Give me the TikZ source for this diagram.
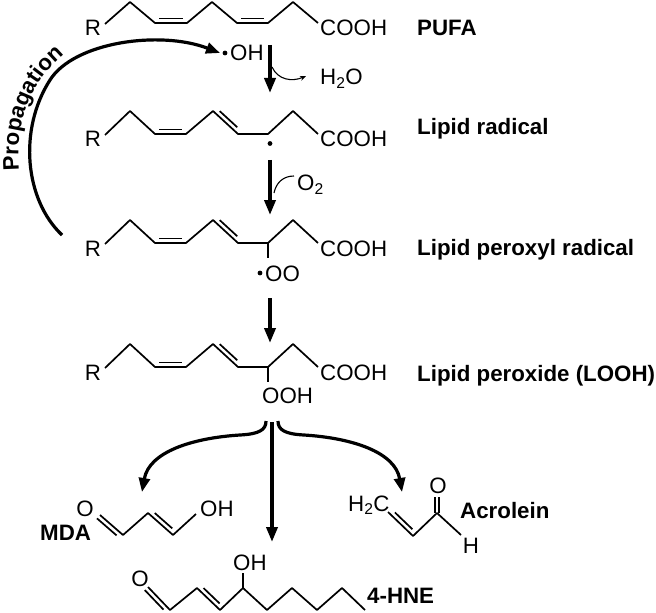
\documentclass[tikz,border=0pt]{standalone}
\usepackage{fontspec}
\setmainfont{Liberation Sans}
\usetikzlibrary{arrows.meta,calc,decorations.text}

\tikzset{
  bond/.style={line width=1.7bp, line join=round},
  reaction/.style={line width=3.6bp, -{Triangle[length=15bp,width=11bp]}},
  bent/.style={line width=3.2bp, -{Triangle[length=14bp,width=11bp]}},
  byarrow/.style={line width=1.1bp, -{Stealth[length=6bp,width=5bp]}},
  atom/.style={anchor=base, inner sep=0pt},
  chemtext/.style={anchor=base west, inner sep=0pt},
  compound/.style={anchor=base west, inner sep=0pt, font=\fontsize{22.3bp}{26bp}\selectfont\bfseries},
}

\begin{document}
\begin{tikzpicture}[x=1bp, y=-1bp, font=\fontsize{22.3bp}{26bp}\selectfont]
    \useasboundingbox (0,0) rectangle (656,613);

        %PUFA
        \foreach \i/\x/\y in {0/105/24, 1/130/2, 2/155/23, 3/187/23, 4/212/2, 5/237/23, 6/268/23, 7/293/2, 8/318/23}
            \coordinate (p\i) at (\x,\y);
        \draw[bond] (p0) -- (p1) -- (p2) -- (p3) -- (p4) -- (p5) -- (p6) -- (p7) -- (p8);
        \draw[bond] ($(p2)+(4,-4.5)$) -- ($(p3)+(-4,-4.5)$);
        \draw[bond] ($(p5)+(4,-4.5)$) -- ($(p6)+(-4,-4.5)$);
        \node[atom] (Rp) at (93,36) {R};
        \node[chemtext] (cp) at (320,36) {COOH};
        \node[compound] (pufa) at (417,36) {PUFA};

        %Lipid radical, peroxyl radical, peroxide
        \foreach \n/\b in {r/134, q/243, l/367} {
            \foreach \i/\x/\d in {0/105/1, 1/130/-23, 2/155/0, 3/186/0, 4/213/-23, 5/238/0, 6/268/0, 7/293/-23, 8/318/0}
                \coordinate (\n\i) at (\x,\b+\d);
            \draw[bond] (\n0) -- (\n1) -- (\n2) -- (\n3) -- (\n4) -- (\n5) -- (\n6) -- (\n7) -- (\n8);
            \draw[bond] ($(\n2)+(4,-4.5)$) -- ($(\n3)+(-4,-4.5)$);
            \draw[bond] ($(\n4)!0.15!(\n5)+(3,-3.3)$) -- ($(\n5)!0.15!(\n4)+(3,-3.3)$);
            \node[atom] (R\n) at (93,\b+13) {R};
            \node[chemtext] (c\n) at (320,\b+13) {COOH};
        }
        \node[compound] (radical) at (417,135) {Lipid radical};
        \node[compound] (peroxyl) at (417,255) {Lipid peroxyl radical};
        \node[compound] (peroxide) at (417,381) {Lipid peroxide (LOOH)};

        %Radical centres
        \fill ($(r6)+(2,9.5)$) circle (2.4bp);
        \draw[bond] (q6) -- ++(0,15);
        \fill (260,273) circle (2.4bp);
        \node[chemtext] (oo) at (265,281) {OO};
        \draw[bond] (l6) -- ++(0,15);
        \node[chemtext] (ooh) at (262,403) {OOH};

        %Steps
        \coordinate (s1) at (270,45);
        \coordinate (t1) at (270,93);
        \draw[reaction] (s1) -- (t1);
        \fill (225,53) circle (2.4bp);
        \node[chemtext] (oh) at (230,61) {OH};
        \node[chemtext] (water) at (320,85) {H\textsubscript{2}O};
        \draw[byarrow] (272,67) .. controls (278,80) and (292,82) .. (306,76);

        \coordinate (s2) at (270,160);
        \coordinate (t2) at (270,215);
        \draw[reaction] (s2) -- (t2);
        \node[chemtext] (oxygen) at (297,191) {O\textsubscript{2}};
        \draw[line width=1.1bp] (294,176) .. controls (283,176) and (276,183) .. (274,193);

        \coordinate (s3) at (270,298);
        \coordinate (t3) at (270,343);
        \draw[reaction] (s3) -- (t3);

        %Propagation
        \draw[bent] (62,235) .. controls (25,200) and (18,130) .. (50,80) .. controls (74,42) and (160,30) .. (220,53);
        \path[decorate, decoration={text along path, text={|\fontsize{22.3bp}{26bp}\selectfont\bfseries|Propagation}}]
            (19,170) .. controls (15,120) and (30,75) .. (82,41);

        %Breakdown of LOOH
        \coordinate (s4) at (272,422);
        \coordinate (t4) at (272,542);
        \draw[reaction] (s4) -- (t4);
        \draw[bent] (266,421) .. controls (266,430) and (259,434) .. (240,435) .. controls (192,438) and (149,452) .. (142,492);
        \draw[bent] (278,421) .. controls (278,430) and (285,434) .. (304,435) .. controls (352,438) and (395,452) .. (402,492);

        %MDA
        \foreach \i/\x/\y in {0/100/515, 1/123/535, 2/148/513, 3/173/535, 4/196/514}
            \coordinate (m\i) at (\x,\y);
        \draw[bond] (m0) -- (m1) -- (m2) -- (m3) -- (m4);
        \draw[bond] ($(m0)+(-3,3.4)$) -- ($(m0)!0.85!(m1)+(-3,3.4)$);
        \draw[bond] ($(m2)!0.15!(m3)+(3,-3.3)$) -- ($(m3)!0.15!(m2)+(3,-3.3)$);
        \node[atom] (mo) at (85,516) {O};
        \node[chemtext] (moh) at (200,516) {OH};
        \node[compound] (mda) at (40,540) {MDA};

        %4-HNE
        \foreach \i/\x/\y in {0/148/587, 1/170/610, 2/197/588, 3/220/610, 4/243/588, 5/267/610, 6/292/588, 7/317/610, 8/342/588, 9/365/610}
            \coordinate (n\i) at (\x,\y);
        \draw[bond] (n0) -- (n1) -- (n2) -- (n3) -- (n4) -- (n5) -- (n6) -- (n7) -- (n8) -- (n9);
        \draw[bond] ($(n0)+(-3.2,3.1)$) -- ($(n0)!0.85!(n1)+(-3.2,3.1)$);
        \draw[bond] ($(n2)!0.15!(n3)+(3.1,-3.2)$) -- ($(n3)!0.15!(n2)+(3.1,-3.2)$);
        \draw[bond] (n4) -- ++(0,-15);
        \node[atom] (no) at (140,586) {O};
        \node[chemtext] (noh) at (233,570) {OH};
        \node[compound] (hne) at (367,603) {4-HNE};

        %Acrolein
        \foreach \i/\x/\y in {0/388/512, 1/413/536, 2/437/513, 3/461/535}
            \coordinate (c\i) at (\x,\y);
        \draw[bond] (c0) -- (c1) -- (c2) -- (c3);
        \draw[bond] ($(c0)!0.15!(c1)+(3.1,-3.2)$) -- ($(c1)!0.15!(c0)+(3.1,-3.2)$);
        \draw[bond] ($(c2)+(-2.3,0)$) -- ++(0,-16);
        \draw[bond] ($(c2)+(2.3,0)$) -- ++(0,-16);
        \node[chemtext] (ch2) at (348,511) {H\textsubscript{2}C};
        \node[atom] (co) at (438,493) {O};
        \node[atom] (ch) at (471,553) {H};
        \node[compound] (acrolein) at (460,518) {Acrolein};

    \end{tikzpicture}
\end{document}
